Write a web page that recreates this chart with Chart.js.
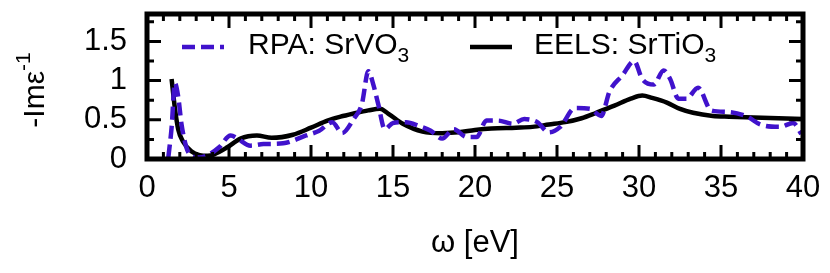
<!DOCTYPE html>
<html>
<head>
<meta charset="utf-8">
<script src="https://cdn.jsdelivr.net/npm/chart.js@4.4.1/dist/chart.umd.min.js"></script>
<style>
html,body{margin:0;padding:0;background:#fff;}
#wrap{width:830px;height:273px;}
</style>
</head>
<body>
<div id="wrap"><canvas id="loss-chart" width="830" height="273"></canvas></div>
<script>
// RPA for SrVO3 : energy (eV) / -Im eps^-1
var rpaEnergy = [1.3, 1.5, 1.7, 1.9, 2.1, 2.4, 2.7, 3.2, 3.8, 4.4, 5.1, 5.6, 6.3, 7.1, 8.3, 9.7, 10.5, 11.3, 11.9, 12.6, 13.1, 13.5, 13.8, 14.1, 14.5, 15.0, 15.8, 16.6, 17.3, 18.0, 18.7, 19.5, 20.1, 20.7, 21.4, 22.3, 23.0, 23.8, 24.5, 25.2, 26.1, 27.0, 27.7, 28.2, 29.0, 29.7, 30.2, 30.9, 31.5, 31.9, 32.4, 32.9, 33.6, 34.4, 35.4, 36.6, 37.4, 38.6, 39.4, 39.9];
var rpaLoss   = [0.02, 0.4, 0.97, 0.8, 0.45, 0.15, 0.04, 0.02, 0.06, 0.15, 0.3, 0.25, 0.17, 0.19, 0.2, 0.3, 0.36, 0.47, 0.33, 0.51, 0.7, 1.12, 0.95, 0.7, 0.38, 0.46, 0.47, 0.42, 0.36, 0.26, 0.38, 0.28, 0.28, 0.49, 0.49, 0.45, 0.51, 0.47, 0.34, 0.41, 0.65, 0.64, 0.55, 0.86, 1.07, 1.25, 1.02, 0.95, 1.13, 1.02, 0.77, 0.77, 0.91, 0.62, 0.6, 0.54, 0.44, 0.41, 0.46, 0.32];

// EELS for SrTiO3
var eelsEnergy = [1.5, 1.7, 1.9, 2.2, 2.7, 3.2, 3.7, 4.1, 4.9, 5.7, 6.7, 7.6, 8.9, 10.0, 11.0, 11.8, 12.6, 13.5, 14.2, 14.7, 15.6, 16.8, 18.0, 19.0, 20.0, 21.0, 22.5, 23.5, 24.5, 25.5, 26.5, 27.4, 28.5, 29.5, 30.2, 30.8, 31.7, 32.5, 33.3, 34.5, 35.5, 37.0, 38.5, 40.0];
var eelsLoss   = [1.02, 0.65, 0.38, 0.22, 0.1, 0.05, 0.04, 0.06, 0.15, 0.26, 0.3, 0.27, 0.31, 0.4, 0.49, 0.54, 0.58, 0.62, 0.64, 0.58, 0.45, 0.35, 0.33, 0.34, 0.37, 0.39, 0.4, 0.41, 0.44, 0.47, 0.52, 0.59, 0.68, 0.77, 0.81, 0.78, 0.72, 0.64, 0.59, 0.55, 0.54, 0.53, 0.52, 0.51];

var xTicks = [0, 5, 10, 15, 20, 25, 30, 35, 40];
var yTicks = [0, 0.5, 1, 1.5];
var seriesNames = ['RPA: SrVO', 'EELS: SrTiO'];
var seriesSubs = ['3', '3'];
var seriesColors = ['#4012cc', '#000000'];

var FONT = '"Liberation Sans", Arial, sans-serif';

function toPoints(xs, ys){
	var out = [];
	for (var i = 0; i < xs.length; i++) out.push({x: xs[i], y: ys[i]});
	return out;
}

// frame + inward ticks on all four sides, gnuplot style
var framePlugin = {
	id: 'frame',
	afterDatasetsDraw: function(chart){
		var ctx = chart.ctx, a = chart.chartArea;
		var xs = chart.scales.x, ys = chart.scales.y;
		ctx.save();
		ctx.strokeStyle = '#000';
		ctx.lineWidth = 3;
		ctx.beginPath();
		for (var v = 0; v <= 40; v++) {
			var px = xs.getPixelForValue(v);
			var len = (v % 5 === 0) ? 14 : 7;
			ctx.moveTo(px, a.bottom); ctx.lineTo(px, a.bottom - len);
			ctx.moveTo(px, a.top); ctx.lineTo(px, a.top + len);
		}
		for (var k = 0; k * 0.25 <= ys.max; k++) {
			var py = ys.getPixelForValue(k * 0.25);
			var l = (k % 2 === 0) ? 14 : 7;
			ctx.moveTo(a.left, py); ctx.lineTo(a.left + l, py);
			ctx.moveTo(a.right, py); ctx.lineTo(a.right - l, py);
		}
		ctx.stroke();
		ctx.lineWidth = 5;
		ctx.strokeRect(a.left, a.top, a.right - a.left, a.bottom - a.top);
		ctx.restore();
	}
};

// legend inside the frame and y title, both need subscripts / superscripts
var textPlugin = {
	id: 'texts',
	afterDraw: function(chart){
		var ctx = chart.ctx;
		ctx.save();
		ctx.fillStyle = '#000';
		ctx.textBaseline = 'alphabetic';

		var samples = [[182, 224, 47, 248], [470, 512, 47, 534]];
		for (var i = 0; i < 2; i++) {
			var s = samples[i];
			ctx.strokeStyle = seriesColors[i];
			ctx.lineWidth = 4.5;
			ctx.setLineDash(i === 0 ? [13, 6] : []);
			ctx.beginPath(); ctx.moveTo(s[0], s[2]); ctx.lineTo(s[1], s[2]); ctx.stroke();
			ctx.setLineDash([]);
			ctx.font = '30px ' + FONT;
			ctx.fillText(seriesNames[i], s[3], 54);
			var w = ctx.measureText(seriesNames[i]).width;
			ctx.font = '21px ' + FONT;
			ctx.fillText(seriesSubs[i], s[3] + w, 62);
		}

		// -Im eps^-1
		ctx.translate(44, 90);
		ctx.rotate(-Math.PI / 2);
		ctx.font = '30px ' + FONT;
		var main = '-Im\u03b5';
		var mw = ctx.measureText(main).width;
		ctx.font = '21px ' + FONT;
		var sw = ctx.measureText('-1').width;
		var x0 = -(mw + sw) / 2;
		ctx.font = '30px ' + FONT;
		ctx.fillText(main, x0, 0);
		ctx.font = '21px ' + FONT;
		ctx.fillText('-1', x0 + mw, -14);
		ctx.restore();
	}
};

new Chart(document.getElementById('loss-chart'), {
	type: 'line',
	data: {
		datasets: [
			{
				label: seriesNames[0] + seriesSubs[0],
				data: toPoints(rpaEnergy, rpaLoss),
				borderColor: seriesColors[0],
				borderWidth: 4.5,
				borderDash: [13, 6],
				pointRadius: 0,
				fill: false,
				cubicInterpolationMode: 'monotone'
			},
			{
				label: seriesNames[1] + seriesSubs[1],
				data: toPoints(eelsEnergy, eelsLoss),
				borderColor: seriesColors[1],
				borderWidth: 4.5,
				pointRadius: 0,
				fill: false,
				cubicInterpolationMode: 'monotone'
			}
		]
	},
	options: {
		responsive: false,
		animation: false,
		devicePixelRatio: 1,
		layout: { padding: { left: 0, right: 27, top: 14, bottom: 0 } },
		plugins: { legend: { display: false }, tooltip: { enabled: false } },
		scales: {
			x: {
				type: 'linear',
				min: 0, max: 40,
				afterBuildTicks: function(scale){ scale.ticks = xTicks.map(function(v){ return {value: v}; }); },
				afterFit: function(scale){ scale.height = 114; scale.paddingLeft = 0; scale.paddingRight = 0; },
				grid: { display: false, drawTicks: false },
				border: { display: false },
				ticks: { color: '#000', padding: 11, maxRotation: 0, font: { family: FONT, size: 31 },
					callback: function(v){ return String(v); } },
				title: { display: true, text: '\u03c9 [eV]', color: '#000', font: { family: FONT, size: 31 },
					padding: { top: 0, bottom: 11 } }
			},
			y: {
				min: 0, max: 1.85,
				afterBuildTicks: function(scale){ scale.ticks = yTicks.map(function(v){ return {value: v}; }); },
				afterFit: function(scale){ scale.width = 147; scale.paddingTop = 0; scale.paddingBottom = 0; },
				grid: { display: false, drawTicks: false },
				border: { display: false },
				ticks: { color: '#000', padding: 20, font: { family: FONT, size: 31 },
					callback: function(v){ return String(v); } }
			}
		}
	},
	plugins: [framePlugin, textPlugin]
});
</script>
</body>
</html>
